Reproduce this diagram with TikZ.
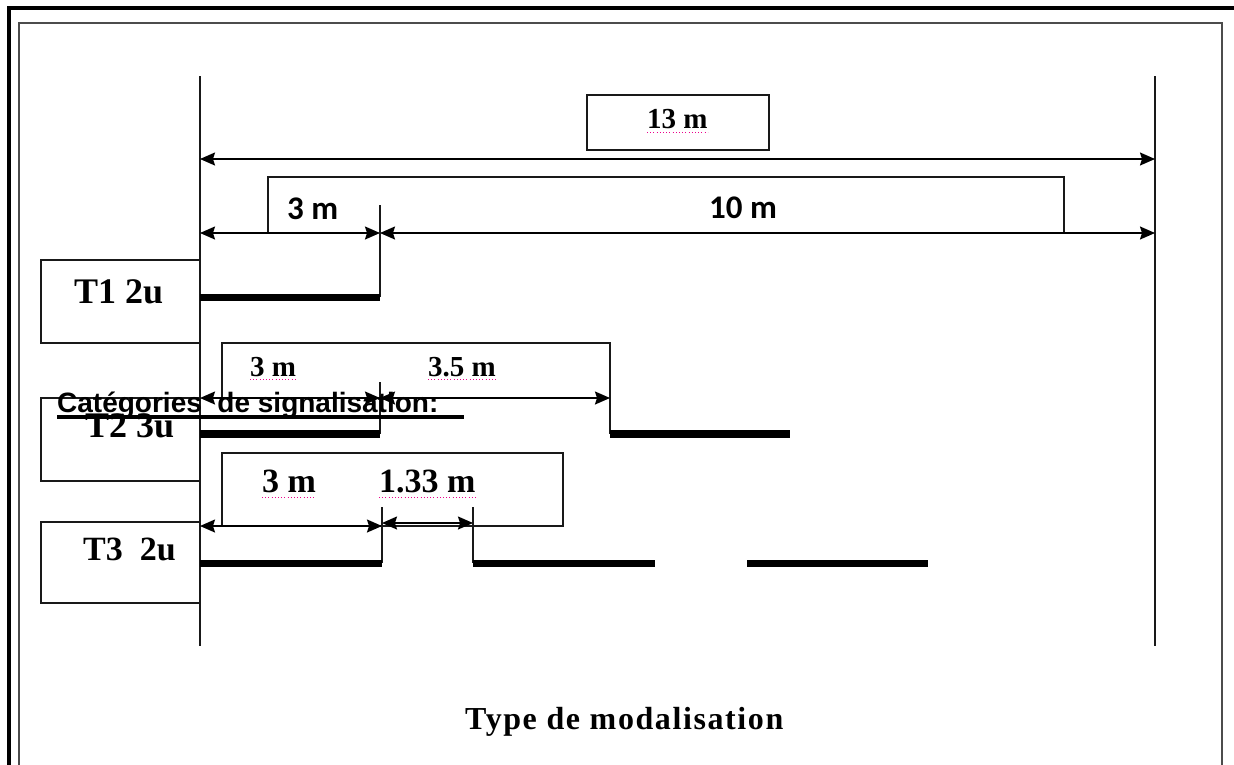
\documentclass[tikz,border=0pt]{standalone}
\usepackage{fontspec}
\setmainfont{Liberation Serif}
\newfontfamily\calfont{Carlito}
\newfontfamily\arialfont{Liberation Sans}
\usetikzlibrary{arrows.meta}
\begin{document}
\begin{tikzpicture}[x=1pt,y=-1pt,
  thinline/.style={line width=1.5pt,black!90},
  framein/.style={line width=2pt,black!70},
  frameout/.style={line width=3.2pt,black},
  dimline/.style={line width=1.5pt,black,{Stealth[length=15pt,width=13pt,inset=2pt]}-{Stealth[length=15pt,width=13pt,inset=2pt]}},
  barline/.style={line width=7pt,black},
  lbl/.style={inner sep=0pt,anchor=base west},
  tnr/.style={lbl,font=\bfseries\fontsize{#1}{#1}\selectfont},
  cal/.style={lbl,font=\calfont\bfseries\fontsize{33}{33}\selectfont},
  spell/.style={magenta,line width=1pt,dash pattern=on 1pt off 2.2pt}
]
\useasboundingbox (0,0) rectangle (1234,764);
\clip (0,0) rectangle (1234,764);
\fill[white] (0,0) rectangle (1234,764);
% frames
\draw[frameout] (9,8) rectangle (1260,800);
\draw[framein] (19,23) rectangle (1222,800);
% main verticals
\coordinate (L0) at (200,76); \coordinate (L1) at (200,646);
\coordinate (R0) at (1155,76); \coordinate (R1) at (1155,646);
\draw[thinline] (L0) -- (L1);
\draw[thinline] (R0) -- (R1);
% 13 m
\draw[thinline] (587,95) rectangle (769,150);
\node[tnr=29] (t13) at (647,128) {13 m};
\draw[spell] ([yshift=-4pt]t13.base west) -- ([yshift=-4pt]t13.base east);
\coordinate (a13l) at (200,159); \coordinate (a13r) at (1155,159);
\draw[dimline] (a13l) -- (a13r);
% 3 m / 10 m
\coordinate (b0) at (268,233); \coordinate (b1) at (1064,233);
\draw[thinline] (b0) -- (268,177) -- (1064,177) -- (b1);
\node[cal] (c3) at (287,219) {3 m};
\node[cal] (c10) at (709,218) {10 m};
\coordinate (d1l) at (200,233); \coordinate (d1m) at (380,233); \coordinate (d1r) at (1155,233);
\draw[dimline] (d1l) -- (d1m);
\draw[dimline] (d1m) -- (d1r);
\draw[thinline] (380,205) -- (380,297);
% T1
\draw[thinline] (200,260) -- (41,260) -- (41,343) -- (200,343);
\node[tnr=36] (T1) at (74,303) {T1 2u};
\draw[barline] (200,297) -- (380,297);
% T2
\draw[thinline] (222,398) -- (222,343) -- (610,343) -- (610,434);
\node[tnr=29] (t2a) at (250,376) {3 m};
\node[tnr=29] (t2b) at (428,376) {3.5 m};
\draw[spell] ([yshift=-3pt]t2a.base west) -- ([yshift=-3pt]t2a.base east);
\draw[spell] ([yshift=-3pt]t2b.base west) -- ([yshift=-3pt]t2b.base east);
\coordinate (d2l) at (200,398); \coordinate (d2m) at (380,398); \coordinate (d2r) at (610,398);
\draw[dimline] (d2l) -- (d2m);
\draw[dimline] (d2m) -- (d2r);
\draw[thinline] (380,382) -- (380,434);
\draw[thinline] (200,398) -- (41,398) -- (41,481) -- (200,481);
\node[tnr=36] (T2) at (85,437) {T2 3u};
\draw[barline,line width=8pt] (200,434) -- (380,434);
\draw[barline,line width=8pt] (610,434) -- (790,434);
% Categories
\node[lbl,font=\arialfont\bfseries\fontsize{28}{28}\selectfont] (cat) at (57,412) {Catégories\ \ de signalisation:};
\draw[line width=3.2pt] ([yshift=-5pt]cat.base west) -- (464,417);
% T3
\draw[thinline] (222,453) rectangle (563,526);
\node[tnr=34] (t3a) at (262,492) {3 m};
\node[tnr=34] (t3b) at (379,492) {1.33 m};
\draw[spell] ([yshift=-5pt]t3a.base west) -- ([yshift=-5pt]t3a.base east);
\draw[spell] ([yshift=-5pt]t3b.base west) -- ([yshift=-5pt]t3b.base east);
\coordinate (d3l) at (200,526); \coordinate (d3m) at (382,526);
\coordinate (d4l) at (382,523); \coordinate (d4r) at (473,523);
\draw[dimline] (d3l) -- (d3m);
\draw[dimline] (d4l) -- (d4r);
\draw[thinline] (382,507) -- (382,563);
\draw[thinline] (473,507) -- (473,563);
\draw[thinline] (200,522) -- (41,522) -- (41,603) -- (200,603);
\node[tnr=34] (T3) at (83,560) {T3\ \ 2u};
\draw[barline] (200,563) -- (382,563);
\draw[barline] (473,563) -- (655,563);
\draw[barline] (747,563) -- (928,563);
% title
\node[lbl,font=\bfseries\fontsize{32}{32}\selectfont\addfontfeature{LetterSpace=5}] (title) at (465,729) {Type de modalisation};
\end{tikzpicture}
\end{document}
